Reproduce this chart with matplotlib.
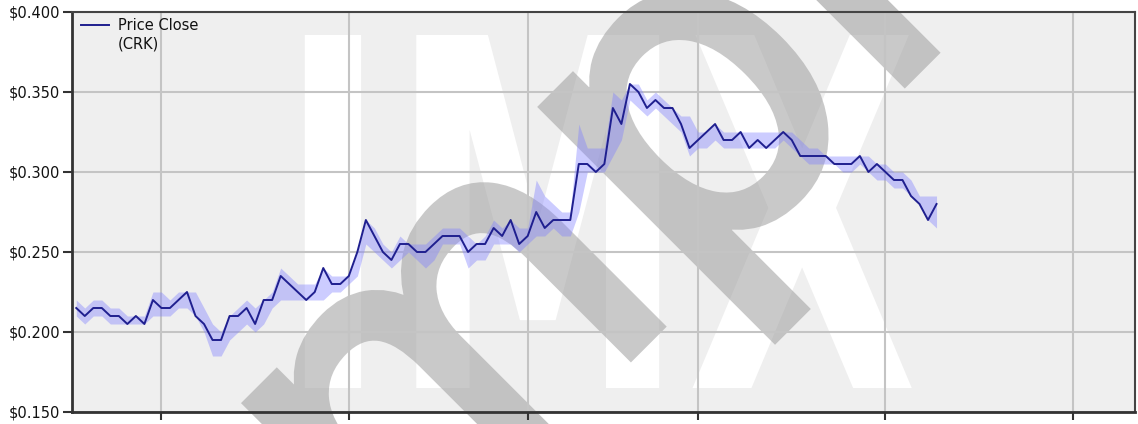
import matplotlib
matplotlib.use('Agg')
import matplotlib.pyplot as plt
from matplotlib.textpath import TextPath
from matplotlib.patches import PathPatch, Rectangle
from matplotlib.font_manager import FontProperties
from matplotlib.transforms import Affine2D
import numpy as np

# Daily prices (CRK), one value per trading day
close = [0.215, 0.210, 0.215, 0.215, 0.210, 0.210, 0.205, 0.210, 0.205, 0.220,
         0.215, 0.215, 0.220, 0.225, 0.210, 0.205, 0.195, 0.195, 0.210, 0.210,
         0.215, 0.205, 0.220, 0.220, 0.235, 0.230, 0.225, 0.220, 0.225, 0.240,
         0.230, 0.230, 0.235, 0.250, 0.270, 0.260, 0.250, 0.245, 0.255, 0.255,
         0.250, 0.250, 0.255, 0.260, 0.260, 0.260, 0.250, 0.255, 0.255, 0.265,
         0.260, 0.270, 0.255, 0.260, 0.275, 0.265, 0.270, 0.270, 0.270, 0.305,
         0.305, 0.300, 0.305, 0.340, 0.330, 0.355, 0.350, 0.340, 0.345, 0.340,
         0.340, 0.330, 0.315, 0.320, 0.325, 0.330, 0.320, 0.320, 0.325, 0.315,
         0.320, 0.315, 0.320, 0.325, 0.320, 0.310, 0.310, 0.310, 0.310, 0.305,
         0.305, 0.305, 0.310, 0.300, 0.305, 0.300, 0.295, 0.295, 0.285, 0.280,
         0.270, 0.280]
high = [0.220, 0.215, 0.220, 0.220, 0.215, 0.215, 0.210, 0.210, 0.210, 0.225,
        0.225, 0.220, 0.225, 0.225, 0.225, 0.215, 0.205, 0.200, 0.210, 0.215,
        0.220, 0.215, 0.220, 0.225, 0.240, 0.235, 0.230, 0.230, 0.230, 0.240,
        0.235, 0.235, 0.235, 0.250, 0.270, 0.265, 0.255, 0.250, 0.260, 0.255,
        0.255, 0.255, 0.260, 0.265, 0.265, 0.265, 0.260, 0.255, 0.260, 0.270,
        0.265, 0.270, 0.265, 0.265, 0.295, 0.285, 0.280, 0.275, 0.275, 0.330,
        0.315, 0.315, 0.315, 0.350, 0.345, 0.355, 0.355, 0.345, 0.350, 0.345,
        0.340, 0.335, 0.335, 0.325, 0.325, 0.330, 0.325, 0.325, 0.325, 0.325,
        0.325, 0.325, 0.325, 0.325, 0.325, 0.320, 0.315, 0.315, 0.310, 0.310,
        0.310, 0.310, 0.310, 0.310, 0.305, 0.305, 0.300, 0.300, 0.295, 0.285,
        0.285, 0.285]
low = [0.210, 0.205, 0.210, 0.210, 0.205, 0.205, 0.205, 0.205, 0.205, 0.210,
       0.210, 0.210, 0.215, 0.215, 0.210, 0.200, 0.185, 0.185, 0.195, 0.200,
       0.205, 0.200, 0.205, 0.215, 0.220, 0.220, 0.220, 0.220, 0.220, 0.220,
       0.225, 0.225, 0.230, 0.235, 0.255, 0.250, 0.245, 0.240, 0.245, 0.250,
       0.245, 0.240, 0.245, 0.255, 0.255, 0.255, 0.240, 0.245, 0.245, 0.255,
       0.255, 0.255, 0.250, 0.255, 0.260, 0.260, 0.265, 0.260, 0.260, 0.275,
       0.300, 0.300, 0.300, 0.310, 0.320, 0.345, 0.340, 0.335, 0.340, 0.335,
       0.330, 0.325, 0.310, 0.315, 0.315, 0.320, 0.315, 0.315, 0.315, 0.315,
       0.315, 0.315, 0.315, 0.320, 0.315, 0.310, 0.305, 0.305, 0.305, 0.305,
       0.300, 0.300, 0.305, 0.300, 0.295, 0.295, 0.290, 0.290, 0.285, 0.280,
       0.270, 0.265]

# first trading day of each month (index into the series)
month_starts = [10, 32, 53, 73, 95, 117]
price_ticks = [0.15, 0.20, 0.25, 0.30, 0.35, 0.40]

days = np.arange(len(close))

LINE = '#1f1f8f'
BG = '#efefef'
W, H = 1138, 424

fig = plt.figure(figsize=(W / 100, H / 100), dpi=100)
ax = fig.add_axes([72 / W, 12 / H, 1063 / W, 400 / H])
ax.set_facecolor('none')

# plot background + watermarks sit behind the axes
fig.add_artist(Rectangle((0, 0), 1, 1, transform=ax.transAxes,
                         facecolor=BG, edgecolor='none', zorder=-3))
bold = FontProperties(family='DejaVu Sans', weight='bold')
book = FontProperties(family='DejaVu Sans')

imx = TextPath((0, 0), 'IMX', size=1, prop=bold)
ext = imx.get_extents()
x0, x1, y0, y1 = 0.219, 0.790, 0.06, 0.9425
imx_tr = Affine2D().translate(-ext.x0, -ext.y0) \
    .scale((x1 - x0) / ext.width, (y1 - y0) / ext.height) \
    .translate(x0, y0) + ax.transAxes
fig.add_artist(PathPatch(imx, transform=imx_tr, facecolor='white',
                         edgecolor='none', zorder=-2))

# grey logo text, rotated 45 degrees (em 430 px, origin in px from top-left)
logo = TextPath((0, 0), 'mpr', size=1, prop=book)
logo_tr = Affine2D().scale(430).rotate_deg(45) \
    .translate(388, H - 597).scale(0.01) + fig.dpi_scale_trans
fig.add_artist(PathPatch(logo, transform=logo_tr, facecolor='#c2c2c2',
                         edgecolor='#c2c2c2', lw=8.5, zorder=-1.5))
# the white letters still show faintly through the grey
fig.add_artist(PathPatch(imx, transform=imx_tr, facecolor='white',
                         edgecolor='none', alpha=0.12, zorder=-1))

# price band and close line
ax.fill_between(days, low, high, color='#8080ff', alpha=0.4, lw=0, zorder=2)
ax.plot(days, close, color=LINE, lw=1.4, zorder=3)

ax.set_xlim(-0.5, 124.3)
ax.set_ylim(0.15, 0.40)
ax.set_xticks(month_starts)
ax.set_yticks(price_ticks)
ax.set_yticklabels(['$%.3f' % v for v in price_ticks])
ax.tick_params(axis='x', direction='out', length=6, width=1.5,
               color='#333333', labelbottom=False)
ax.tick_params(axis='y', direction='out', length=6.5, width=1.5, pad=2,
               color='#333333', labelsize=10.5, labelcolor='#111111')
ax.grid(True, color='#c4c4c4', lw=1.5)
ax.set_axisbelow(True)
for side in ['left', 'bottom']:
    ax.spines[side].set_linewidth(2)
    ax.spines[side].set_color('#333333')
for side in ['top', 'right']:
    ax.spines[side].set_linewidth(1.5)
    ax.spines[side].set_color('#444444')

# legend, drawn by hand so the handle sits on the first text line
ax.plot([0.0085, 0.0348], [0.967, 0.967], transform=ax.transAxes,
        color=LINE, lw=1.4, zorder=4)
ax.text(0.0433, 0.967, 'Price Close', transform=ax.transAxes,
        va='center', ha='left', fontsize=10.5, color='#111111')
ax.text(0.0433, 0.920, '(CRK)', transform=ax.transAxes,
        va='center', ha='left', fontsize=10.5, color='#111111')

fig.savefig('out.png', dpi=100, facecolor='white')
